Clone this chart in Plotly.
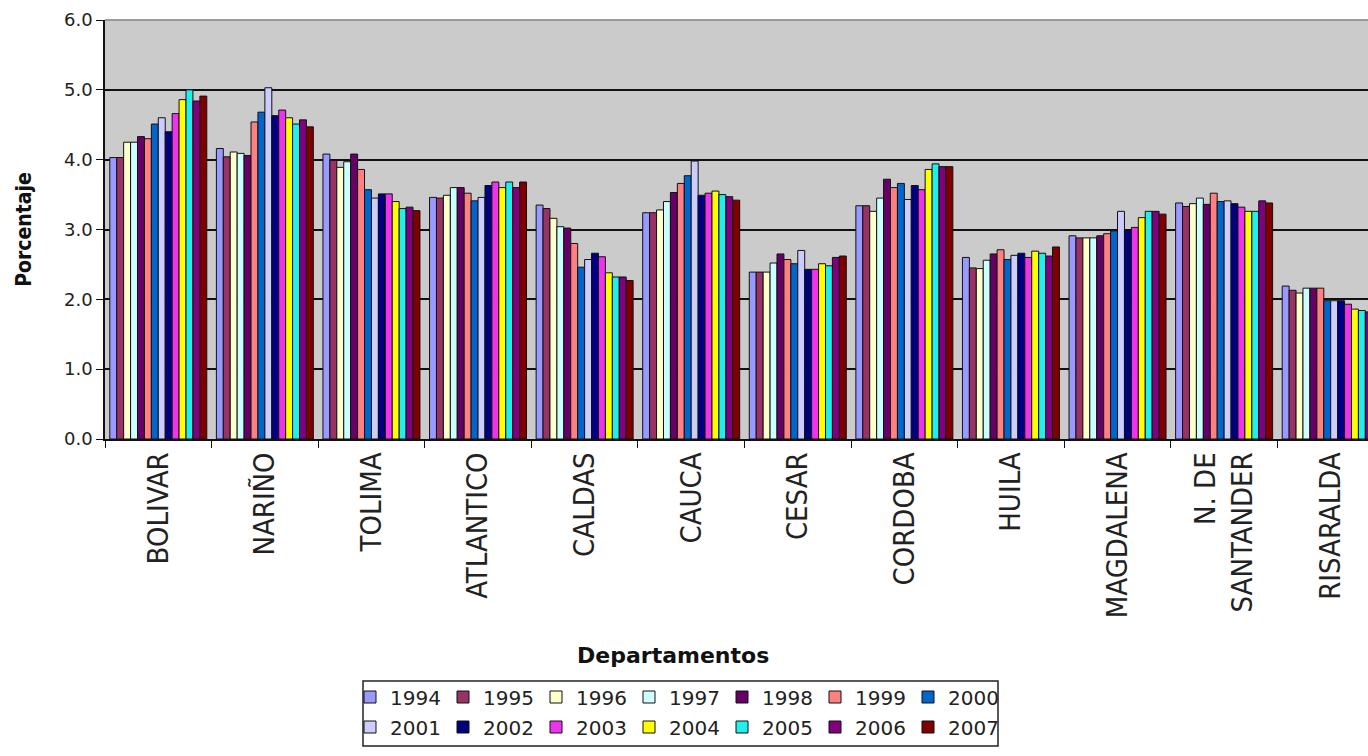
import plotly.graph_objects as go

# Departments on the x axis
departamentos = ["BOLIVAR", "NARIÑO", "TOLIMA", "ATLANTICO", "CALDAS", "CAUCA",
                 "CESAR", "CORDOBA", "HUILA", "MAGDALENA", "N. DE<br>SANTANDER", "RISARALDA"]

# Percentage per department, one list per year
v1994 = [4.03, 4.16, 4.08, 3.46, 3.35, 3.24, 2.39, 3.34, 2.60, 2.91, 3.38, 2.19]
v1995 = [4.03, 4.04, 3.99, 3.45, 3.30, 3.24, 2.39, 3.34, 2.45, 2.88, 3.33, 2.13]
v1996 = [4.25, 4.11, 3.89, 3.49, 3.16, 3.28, 2.39, 3.26, 2.44, 2.88, 3.37, 2.09]
v1997 = [4.25, 4.09, 3.97, 3.60, 3.04, 3.40, 2.52, 3.45, 2.56, 2.88, 3.45, 2.16]
v1998 = [4.33, 4.06, 4.08, 3.60, 3.02, 3.53, 2.65, 3.72, 2.65, 2.91, 3.36, 2.16]
v1999 = [4.30, 4.54, 3.86, 3.52, 2.80, 3.66, 2.57, 3.60, 2.71, 2.94, 3.52, 2.16]
v2000 = [4.51, 4.68, 3.57, 3.41, 2.46, 3.77, 2.51, 3.66, 2.57, 2.98, 3.40, 1.98]
v2001 = [4.60, 5.03, 3.45, 3.46, 2.57, 3.98, 2.70, 3.43, 2.63, 3.26, 3.41, 1.98]
v2002 = [4.40, 4.63, 3.51, 3.63, 2.66, 3.49, 2.43, 3.63, 2.66, 2.99, 3.37, 1.98]
v2003 = [4.66, 4.71, 3.51, 3.68, 2.61, 3.52, 2.43, 3.57, 2.60, 3.03, 3.32, 1.93]
v2004 = [4.86, 4.60, 3.40, 3.60, 2.38, 3.55, 2.51, 3.86, 2.69, 3.17, 3.26, 1.86]
v2005 = [5.00, 4.51, 3.30, 3.68, 2.32, 3.50, 2.48, 3.94, 2.66, 3.26, 3.26, 1.84]
v2006 = [4.84, 4.57, 3.32, 3.60, 2.32, 3.47, 2.60, 3.90, 2.62, 3.26, 3.41, 1.82]
v2007 = [4.91, 4.47, 3.27, 3.68, 2.27, 3.42, 2.62, 3.90, 2.75, 3.22, 3.38, 1.80]

years = ["1994", "1995", "1996", "1997", "1998", "1999", "2000",
         "2001", "2002", "2003", "2004", "2005", "2006", "2007"]
series = [v1994, v1995, v1996, v1997, v1998, v1999, v2000,
          v2001, v2002, v2003, v2004, v2005, v2006, v2007]
colors = ["#9999FF", "#993366", "#FFFFCC", "#CCFFFF", "#660066", "#FF8080", "#0066CC",
          "#CCCCFF", "#000080", "#EE33EE", "#FFFF00", "#22EEEE", "#800080", "#800000"]

y_ticks = [0, 1, 2, 3, 4, 5, 6]

fig = go.Figure()
for i, (yr, vals, col) in enumerate(zip(years, series, colors)):
    fig.add_trace(go.Bar(
        name=yr, x=departamentos, y=vals,
        marker=dict(color=col, line=dict(color="#111111", width=1)),
        legend="legend" if i < 7 else "legend2",
    ))

legend_common = dict(
    orientation="h", xref="container", yref="container",
    xanchor="left", yanchor="middle",
    font=dict(family="DejaVu Sans, Arial, sans-serif", size=20, color="#222222"),
    bgcolor="rgba(0,0,0,0)", borderwidth=0,
    entrywidth=48, itemwidth=30, traceorder="normal",
)

fig.update_layout(
    width=1368, height=756,
    margin=dict(l=105, r=0, t=20, b=317),
    paper_bgcolor="white",
    plot_bgcolor="#CBCBCB",
    barmode="group", bargap=0.09, bargroupgap=0,
    showlegend=True,
    legend=dict(x=350 / 1368, y=1 - 697 / 756, **legend_common),
    legend2=dict(x=350 / 1368, y=1 - 727 / 756, **legend_common),
    xaxis=dict(
        type="category", range=[-0.5, 11.35],
        tickson="boundaries", ticks="outside", ticklen=7, tickcolor="#111111",
        tickangle=-90,
        tickfont=dict(family="Liberation Sans Narrow, DejaVu Sans Condensed, Arial Narrow, sans-serif",
                      size=29, color="#222222"),
        showline=True, linecolor="#111111", linewidth=1.5,
        showgrid=False, fixedrange=True,
    ),
    yaxis=dict(
        range=[0, 6], tickvals=y_ticks, tickformat=".1f",
        ticks="outside", ticklen=7, tickcolor="#111111",
        tickfont=dict(family="DejaVu Sans, Arial, sans-serif", size=18, color="#222222"),
        showline=True, linecolor="#111111", linewidth=1.5,
        showgrid=True, gridcolor="#111111", gridwidth=1.6,
        zeroline=False,
        title=dict(text="<b>Porcentaje</b>", standoff=27,
                   font=dict(family="Liberation Sans Narrow, DejaVu Sans Condensed, Arial Narrow, sans-serif",
                             size=21, color="#111111")),
    ),
    shapes=[
        # grey top edge of the plot area
        dict(type="line", xref="paper", yref="paper", x0=0, x1=1, y0=1, y1=1,
             line=dict(color="#9A9A9A", width=2)),
        # frame around the two legend rows
        dict(type="rect", xref="paper", yref="paper",
             x0=(363 - 105) / 1263, x1=(998 - 105) / 1263,
             y0=(439 - 746) / 419, y1=(439 - 681) / 419,
             line=dict(color="#222222", width=1.5), fillcolor="rgba(0,0,0,0)"),
    ],
    annotations=[
        dict(text="<b>Departamentos</b>", xref="paper", yref="paper",
             x=(673 - 105) / 1263, y=(439 - 655) / 419,
             xanchor="center", yanchor="middle", showarrow=False,
             font=dict(family="DejaVu Sans, Arial, sans-serif", size=22, color="#111111")),
    ],
)

fig.write_html("out.html")
